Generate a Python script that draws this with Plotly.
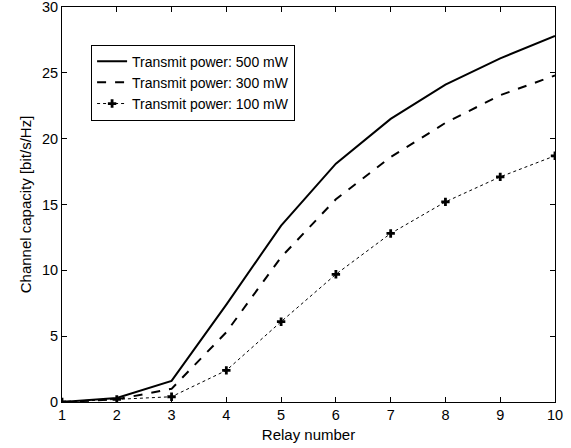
import plotly.graph_objects as go

relay = [1, 2, 3, 4, 5, 6, 7, 8, 9, 10]
cap_500 = [0.0, 0.3, 1.6, 7.4, 13.4, 18.1, 21.5, 24.1, 26.1, 27.8]
cap_300 = [0.0, 0.2, 1.0, 5.3, 11.0, 15.4, 18.6, 21.2, 23.3, 24.8]
cap_100 = [0.0, 0.2, 0.4, 2.4, 6.1, 9.7, 12.8, 15.2, 17.1, 18.7]
names = ["Transmit power: 500 mW", "Transmit power: 300 mW", "Transmit power: 100 mW"]

fig = go.Figure()
fig.add_trace(go.Scatter(x=relay, y=cap_500, mode="lines", name=names[0],
                         line=dict(color="black", width=2)))
fig.add_trace(go.Scatter(x=relay, y=cap_300, mode="lines", name=names[1],
                         line=dict(color="black", width=2, dash="dash")))
fig.add_trace(go.Scatter(x=relay, y=cap_100, mode="lines+markers", name=names[2],
                         line=dict(color="black", width=1, dash="dot"),
                         marker=dict(symbol="cross", size=7, color="black")))

font = "Liberation Sans, Arial, Helvetica, sans-serif"
axis_common = dict(showline=True, linecolor="black", linewidth=1, mirror="ticks",
                   ticks="inside", ticklen=5, tickcolor="black", showgrid=False,
                   zeroline=False, ticklabeloverflow="allow", automargin=False,
                   tickfont=dict(size=14.5, color="black", family=font))
fig.update_layout(
    width=571, height=448,
    margin=dict(l=62, r=16, t=7, b=46),
    paper_bgcolor="white", plot_bgcolor="white",
    font=dict(family=font, size=15, color="black"),
    xaxis=dict(range=[1, 10], tickvals=relay,
               title=dict(text="Relay number", standoff=7, font=dict(size=15)),
               **axis_common),
    yaxis=dict(range=[0, 30], tickvals=[0, 5, 10, 15, 20, 25, 30],
               title=dict(text="Channel capacity [bit/s/Hz]", standoff=6, font=dict(size=15)),
               **axis_common),
    legend=dict(x=0.059, y=0.905, xanchor="left", yanchor="top",
                bordercolor="black", borderwidth=1, bgcolor="white",
                font=dict(size=14, family=font), tracegroupgap=0),
    showlegend=True,
)
fig.write_html("out.html", config={"displayModeBar": False},
               post_script="document.body.style.margin='0';")
